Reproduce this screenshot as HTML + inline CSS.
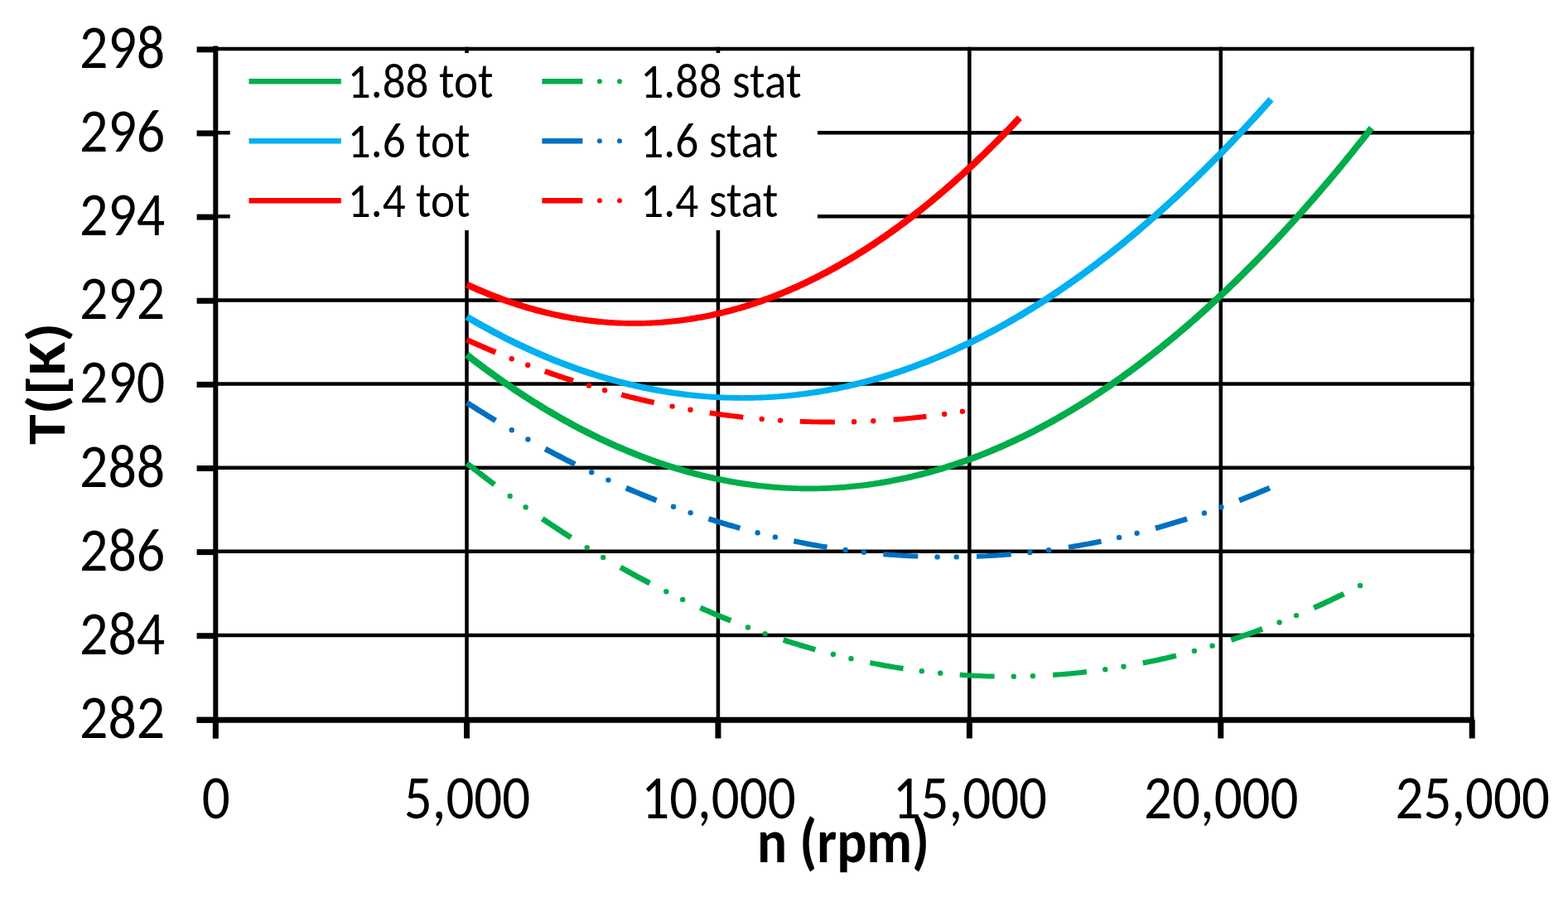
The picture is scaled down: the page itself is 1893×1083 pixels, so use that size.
<!DOCTYPE html><html><head><meta charset="utf-8"><title>T vs n</title><style>html,body{margin:0;padding:0;background:#fff;overflow:hidden}svg{display:block}</style></head><body><svg width="1893" height="1083" viewBox="0 0 1893 1083">
<rect width="1893" height="1083" fill="#fff"/>
<line x1="260.10" y1="766.94" x2="1779.46" y2="766.94" stroke="#000" stroke-width="4.5"/>
<line x1="260.10" y1="665.81" x2="1779.46" y2="665.81" stroke="#000" stroke-width="4.5"/>
<line x1="260.10" y1="564.68" x2="1779.46" y2="564.68" stroke="#000" stroke-width="4.5"/>
<line x1="260.10" y1="463.55" x2="1779.46" y2="463.55" stroke="#000" stroke-width="4.5"/>
<line x1="260.10" y1="362.42" x2="1779.46" y2="362.42" stroke="#000" stroke-width="4.5"/>
<line x1="260.10" y1="261.30" x2="1779.46" y2="261.30" stroke="#000" stroke-width="4.5"/>
<line x1="260.10" y1="160.17" x2="1779.46" y2="160.17" stroke="#000" stroke-width="4.5"/>
<line x1="260.10" y1="59.04" x2="1779.46" y2="59.04" stroke="#000" stroke-width="4.5"/>
<line x1="563.52" y1="56.79" x2="563.52" y2="868.06" stroke="#000" stroke-width="4.5"/>
<line x1="866.95" y1="56.79" x2="866.95" y2="868.06" stroke="#000" stroke-width="4.5"/>
<line x1="1170.37" y1="56.79" x2="1170.37" y2="868.06" stroke="#000" stroke-width="4.5"/>
<line x1="1473.79" y1="56.79" x2="1473.79" y2="868.06" stroke="#000" stroke-width="4.5"/>
<line x1="1777.21" y1="56.79" x2="1777.21" y2="868.06" stroke="#000" stroke-width="4.5"/>
<line x1="237.6" y1="869.25" x2="260.10" y2="869.25" stroke="#000" stroke-width="7"/>
<line x1="237.6" y1="767.74" x2="260.10" y2="767.74" stroke="#000" stroke-width="7"/>
<line x1="237.6" y1="666.61" x2="260.10" y2="666.61" stroke="#000" stroke-width="7"/>
<line x1="237.6" y1="565.48" x2="260.10" y2="565.48" stroke="#000" stroke-width="7"/>
<line x1="237.6" y1="464.35" x2="260.10" y2="464.35" stroke="#000" stroke-width="7"/>
<line x1="237.6" y1="363.22" x2="260.10" y2="363.22" stroke="#000" stroke-width="7"/>
<line x1="237.6" y1="262.10" x2="260.10" y2="262.10" stroke="#000" stroke-width="7"/>
<line x1="237.6" y1="160.97" x2="260.10" y2="160.97" stroke="#000" stroke-width="7"/>
<line x1="237.6" y1="59.84" x2="260.10" y2="59.84" stroke="#000" stroke-width="7"/>
<line x1="260.30" y1="869" x2="260.30" y2="891.5" stroke="#000" stroke-width="7"/>
<line x1="563.52" y1="869" x2="563.52" y2="891.5" stroke="#000" stroke-width="7"/>
<line x1="866.95" y1="869" x2="866.95" y2="891.5" stroke="#000" stroke-width="7"/>
<line x1="1170.37" y1="869" x2="1170.37" y2="891.5" stroke="#000" stroke-width="7"/>
<line x1="1473.79" y1="869" x2="1473.79" y2="891.5" stroke="#000" stroke-width="7"/>
<line x1="1777.21" y1="869" x2="1777.21" y2="891.5" stroke="#000" stroke-width="7"/>
<line x1="260.3" y1="55.54" x2="260.3" y2="891.5" stroke="#000" stroke-width="6"/>
<line x1="237.6" y1="869.25" x2="1779.71" y2="869.25" stroke="#000" stroke-width="7"/>
<path d="M566.1,425.1 568.6,427.0 571.1,429.0 573.6,430.9 576.1,432.8 578.5,434.7 581.0,436.6 583.5,438.5 586.0,440.3 588.5,442.2 591.0,444.0 593.5,445.8 596.0,447.6 598.5,449.4 601.0,451.2 603.5,453.0 606.0,454.8 608.5,456.5 611.0,458.3 613.5,460.0 616.0,461.7 618.5,463.4 621.0,465.1 623.5,466.8 625.9,468.5 628.4,470.2 630.9,471.8 633.4,473.4 635.9,475.1 638.4,476.7 640.9,478.3 643.4,479.9 645.9,481.4 648.4,483.0 650.9,484.6 653.4,486.1 655.9,487.6 658.4,489.2 660.8,490.7 663.3,492.2 665.8,493.6 668.3,495.1 670.8,496.6 673.3,498.0 675.8,499.5 678.3,500.9 680.8,502.3 683.3,503.7 685.8,505.1 688.3,506.5 690.7,507.8 693.2,509.2 695.7,510.5 698.2,511.9 700.7,513.2 703.2,514.5 705.7,515.8 708.2,517.1 710.7,518.3 713.2,519.6 715.7,520.8 718.1,522.1 720.6,523.3 723.1,524.5 725.6,525.7 728.1,526.9 730.6,528.1 733.1,529.2 735.6,530.4 738.1,531.5 740.6,532.7 743.0,533.8 745.5,534.9 748.0,536.0 750.5,537.1 753.0,538.1 755.5,539.2 758.0,540.2 760.5,541.3 763.0,542.3 765.4,543.3 767.9,544.3 770.4,545.3 772.9,546.3 775.4,547.3 777.9,548.2 780.4,549.2 782.9,550.1 785.3,551.0 787.8,551.9 790.3,552.8 792.8,553.7 795.3,554.6 797.8,555.4 800.3,556.3 802.8,557.1 805.2,557.9 807.7,558.7 810.2,559.5 812.7,560.3 815.2,561.1 817.7,561.9 820.2,562.6 822.7,563.4 825.1,564.1 827.6,564.8 830.1,565.5 832.6,566.2 835.1,566.9 837.6,567.6 840.1,568.3 842.6,568.9 845.0,569.5 847.5,570.2 850.0,570.8 852.5,571.4 855.0,572.0 857.5,572.6 860.0,573.1 862.5,573.7 864.9,574.2 867.4,574.8 869.9,575.3 872.4,575.8 874.9,576.3 877.4,576.8 879.9,577.2 882.4,577.7 884.8,578.2 887.3,578.6 889.8,579.0 892.3,579.4 894.8,579.8 897.3,580.2 899.8,580.6 902.3,581.0 904.7,581.3 907.2,581.7 909.7,582.0 912.2,582.3 914.7,582.7 917.2,583.0 919.7,583.2 922.2,583.5 924.6,583.8 927.1,584.0 929.6,584.3 932.1,584.5 934.6,584.7 937.1,584.9 939.6,585.1 942.1,585.3 944.5,585.5 947.0,585.6 949.5,585.8 952.0,585.9 954.5,586.0 957.0,586.2 959.5,586.3 962.0,586.3 964.5,586.4 966.9,586.5 969.4,586.5 971.9,586.6 974.4,586.6 976.9,586.6 979.4,586.6 981.9,586.6 984.4,586.5 986.9,586.5 989.3,586.4 991.8,586.3 994.3,586.3 996.8,586.2 999.3,586.0 1001.8,585.9 1004.3,585.8 1006.8,585.6 1009.3,585.5 1011.7,585.3 1014.2,585.1 1016.7,584.9 1019.2,584.7 1021.7,584.5 1024.2,584.3 1026.7,584.1 1029.2,583.8 1031.7,583.5 1034.1,583.3 1036.6,583.0 1039.1,582.7 1041.6,582.4 1044.1,582.1 1046.6,581.7 1049.1,581.4 1051.6,581.0 1054.0,580.7 1056.5,580.3 1059.0,579.9 1061.5,579.5 1064.0,579.1 1066.5,578.6 1069.0,578.2 1071.5,577.7 1073.9,577.3 1076.4,576.8 1078.9,576.3 1081.4,575.8 1083.9,575.3 1086.4,574.8 1088.9,574.3 1091.3,573.7 1093.8,573.2 1096.3,572.6 1098.8,572.0 1101.3,571.4 1103.8,570.8 1106.3,570.2 1108.8,569.6 1111.2,569.0 1113.7,568.3 1116.2,567.6 1118.7,567.0 1121.2,566.3 1123.7,565.6 1126.2,564.9 1128.7,564.2 1131.1,563.4 1133.6,562.7 1136.1,561.9 1138.6,561.2 1141.1,560.4 1143.6,559.6 1146.1,558.8 1148.6,558.0 1151.0,557.2 1153.5,556.3 1156.0,555.5 1158.5,554.6 1161.0,553.8 1163.5,552.9 1166.0,552.0 1168.5,551.1 1170.9,550.2 1173.4,549.2 1175.9,548.3 1178.4,547.3 1180.9,546.4 1183.4,545.4 1185.9,544.4 1188.4,543.4 1190.9,542.4 1193.3,541.4 1195.8,540.3 1198.3,539.3 1200.8,538.2 1203.3,537.2 1205.8,536.1 1208.3,535.0 1210.8,533.9 1213.3,532.8 1215.7,531.6 1218.2,530.5 1220.7,529.3 1223.2,528.2 1225.7,527.0 1228.2,525.8 1230.7,524.6 1233.2,523.4 1235.7,522.2 1238.1,520.9 1240.6,519.7 1243.1,518.4 1245.6,517.2 1248.1,515.9 1250.6,514.6 1253.1,513.3 1255.6,512.0 1258.1,510.6 1260.6,509.3 1263.1,507.9 1265.5,506.6 1268.0,505.2 1270.5,503.8 1273.0,502.4 1275.5,501.0 1278.0,499.6 1280.5,498.1 1283.0,496.7 1285.5,495.2 1288.0,493.8 1290.5,492.3 1293.0,490.8 1295.4,489.3 1297.9,487.8 1300.4,486.2 1302.9,484.7 1305.4,483.1 1307.9,481.6 1310.4,480.0 1312.9,478.4 1315.4,476.8 1317.9,475.2 1320.4,473.6 1322.9,471.9 1325.4,470.3 1327.9,468.6 1330.4,467.0 1332.8,465.3 1335.3,463.6 1337.8,461.9 1340.3,460.2 1342.8,458.4 1345.3,456.7 1347.8,454.9 1350.3,453.2 1352.8,451.4 1355.3,449.6 1357.8,447.8 1360.3,446.0 1362.8,444.2 1365.3,442.3 1367.8,440.5 1370.3,438.6 1372.8,436.7 1375.3,434.8 1377.7,433.0 1380.2,431.0 1382.7,429.1 1385.2,427.2 1387.7,425.3 1390.2,423.3 1392.7,421.3 1395.2,419.3 1397.7,417.4 1400.2,415.4 1402.7,413.3 1405.2,411.3 1407.7,409.3 1410.2,407.2 1412.7,405.2 1415.2,403.1 1417.7,401.0 1420.2,398.9 1422.7,396.8 1425.2,394.7 1427.7,392.5 1430.2,390.4 1432.7,388.2 1435.2,386.1 1437.7,383.9 1440.2,381.7 1442.7,379.5 1445.2,377.3 1447.7,375.1 1450.2,372.8 1452.7,370.6 1455.1,368.3 1457.6,366.0 1460.1,363.7 1462.6,361.4 1465.1,359.1 1467.6,356.8 1470.1,354.5 1472.6,352.1 1475.1,349.8 1477.6,347.4 1480.1,345.0 1482.6,342.6 1485.1,340.2 1487.6,337.8 1490.1,335.4 1492.6,332.9 1495.1,330.5 1497.6,328.0 1500.1,325.5 1502.6,323.0 1505.1,320.5 1507.6,318.0 1510.1,315.5 1512.6,313.0 1515.1,310.4 1517.6,307.9 1520.1,305.3 1522.6,302.7 1525.1,300.1 1527.6,297.5 1530.1,294.9 1532.6,292.2 1535.1,289.6 1537.6,286.9 1540.1,284.3 1542.6,281.6 1545.1,278.9 1547.6,276.2 1550.1,273.5 1552.6,270.8 1555.1,268.0 1557.6,265.3 1560.1,262.5 1562.6,259.7 1565.1,257.0 1567.6,254.2 1570.1,251.3 1572.6,248.5 1575.1,245.7 1577.6,242.8 1580.1,240.0 1582.6,237.1 1585.1,234.2 1587.6,231.3 1590.1,228.4 1592.6,225.5 1595.1,222.6 1597.6,219.7 1600.1,216.7 1602.6,213.7 1605.1,210.8 1607.7,207.8 1610.2,204.8 1612.7,201.8 1615.2,198.7 1617.7,195.7 1620.2,192.7 1622.7,189.6 1625.2,186.5 1627.7,183.4 1630.2,180.4 1632.7,177.2 1635.2,174.1 1637.7,171.0 1640.2,167.9 1642.7,164.7 1645.2,161.5 1647.7,158.4 1650.2,155.2 1652.7,152.0 1659.0,156.9 1656.5,160.1 1654.0,163.3 1651.5,166.5 1649.0,169.7 1646.5,172.8 1643.9,176.0 1641.4,179.1 1638.9,182.3 1636.4,185.4 1633.9,188.5 1631.4,191.6 1628.9,194.7 1626.4,197.8 1623.9,200.8 1621.4,203.9 1618.9,206.9 1616.4,209.9 1613.8,212.9 1611.3,215.9 1608.8,218.9 1606.3,221.9 1603.8,224.9 1601.3,227.8 1598.8,230.8 1596.3,233.7 1593.8,236.6 1591.3,239.5 1588.8,242.4 1586.2,245.3 1583.7,248.2 1581.2,251.1 1578.7,253.9 1576.2,256.7 1573.7,259.6 1571.2,262.4 1568.7,265.2 1566.2,268.0 1563.7,270.7 1561.1,273.5 1558.6,276.3 1556.1,279.0 1553.6,281.7 1551.1,284.4 1548.6,287.2 1546.1,289.9 1543.6,292.5 1541.1,295.2 1538.6,297.9 1536.0,300.5 1533.5,303.1 1531.0,305.8 1528.5,308.4 1526.0,311.0 1523.5,313.6 1521.0,316.1 1518.5,318.7 1516.0,321.3 1513.4,323.8 1510.9,326.3 1508.4,328.8 1505.9,331.3 1503.4,333.8 1500.9,336.3 1498.4,338.8 1495.9,341.2 1493.4,343.7 1490.8,346.1 1488.3,348.5 1485.8,351.0 1483.3,353.4 1480.8,355.7 1478.3,358.1 1475.8,360.5 1473.3,362.8 1470.7,365.2 1468.2,367.5 1465.7,369.8 1463.2,372.1 1460.7,374.4 1458.2,376.7 1455.7,378.9 1453.2,381.2 1450.6,383.4 1448.1,385.7 1445.6,387.9 1443.1,390.1 1440.6,392.3 1438.1,394.5 1435.6,396.7 1433.1,398.8 1430.5,401.0 1428.0,403.1 1425.5,405.2 1423.0,407.3 1420.5,409.4 1418.0,411.5 1415.5,413.6 1412.9,415.7 1410.4,417.7 1407.9,419.8 1405.4,421.8 1402.9,423.8 1400.4,425.8 1397.9,427.8 1395.3,429.8 1392.8,431.8 1390.3,433.7 1387.8,435.7 1385.3,437.6 1382.8,439.5 1380.3,441.5 1377.7,443.3 1375.2,445.2 1372.7,447.1 1370.2,449.0 1367.7,450.8 1365.2,452.7 1362.6,454.5 1360.1,456.3 1357.6,458.1 1355.1,459.9 1352.6,461.7 1350.1,463.5 1347.5,465.2 1345.0,467.0 1342.5,468.7 1340.0,470.4 1337.5,472.1 1335.0,473.8 1332.4,475.5 1329.9,477.2 1327.4,478.8 1324.9,480.5 1322.4,482.1 1319.9,483.7 1317.3,485.4 1314.8,487.0 1312.3,488.6 1309.8,490.1 1307.3,491.7 1304.8,493.3 1302.2,494.8 1299.7,496.3 1297.2,497.8 1294.7,499.3 1292.2,500.8 1289.6,502.3 1287.1,503.8 1284.6,505.3 1282.1,506.7 1279.6,508.1 1277.0,509.6 1274.5,511.0 1272.0,512.4 1269.5,513.8 1267.0,515.1 1264.5,516.5 1261.9,517.8 1259.4,519.2 1256.9,520.5 1254.4,521.8 1251.9,523.1 1249.3,524.4 1246.8,525.7 1244.3,527.0 1241.8,528.2 1239.2,529.5 1236.7,530.7 1234.2,531.9 1231.7,533.1 1229.2,534.3 1226.6,535.5 1224.1,536.7 1221.6,537.8 1219.1,539.0 1216.6,540.1 1214.0,541.2 1211.5,542.4 1209.0,543.5 1206.5,544.5 1204.0,545.6 1201.4,546.7 1198.9,547.7 1196.4,548.8 1193.9,549.8 1191.3,550.8 1188.8,551.8 1186.3,552.8 1183.8,553.8 1181.3,554.8 1178.7,555.7 1176.2,556.7 1173.7,557.6 1171.2,558.5 1168.6,559.4 1166.1,560.3 1163.6,561.2 1161.1,562.1 1158.6,562.9 1156.0,563.8 1153.5,564.6 1151.0,565.4 1148.5,566.2 1145.9,567.0 1143.4,567.8 1140.9,568.6 1138.4,569.4 1135.8,570.1 1133.3,570.9 1130.8,571.6 1128.3,572.3 1125.8,573.0 1123.2,573.7 1120.7,574.4 1118.2,575.1 1115.7,575.7 1113.1,576.4 1110.6,577.0 1108.1,577.6 1105.6,578.2 1103.0,578.8 1100.5,579.4 1098.0,580.0 1095.5,580.5 1092.9,581.1 1090.4,581.6 1087.9,582.1 1085.4,582.6 1082.9,583.1 1080.3,583.6 1077.8,584.1 1075.3,584.6 1072.8,585.0 1070.2,585.4 1067.7,585.9 1065.2,586.3 1062.7,586.7 1060.1,587.1 1057.6,587.5 1055.1,587.8 1052.6,588.2 1050.0,588.5 1047.5,588.9 1045.0,589.2 1042.5,589.5 1040.0,589.8 1037.4,590.1 1034.9,590.3 1032.4,590.6 1029.9,590.8 1027.3,591.1 1024.8,591.3 1022.3,591.5 1019.8,591.7 1017.2,591.9 1014.7,592.1 1012.2,592.2 1009.7,592.4 1007.2,592.5 1004.6,592.6 1002.1,592.7 999.6,592.8 997.1,592.9 994.5,593.0 992.0,593.1 989.5,593.1 987.0,593.2 984.5,593.2 981.9,593.2 979.4,593.2 976.9,593.2 974.4,593.2 971.9,593.2 969.3,593.2 966.8,593.2 964.3,593.1 961.8,593.1 959.3,593.0 956.7,592.9 954.2,592.8 951.7,592.7 949.2,592.6 946.6,592.5 944.1,592.4 941.6,592.2 939.1,592.0 936.6,591.9 934.0,591.7 931.5,591.5 929.0,591.3 926.5,591.0 923.9,590.8 921.4,590.6 918.9,590.3 916.4,590.0 913.8,589.8 911.3,589.5 908.8,589.2 906.3,588.8 903.8,588.5 901.2,588.2 898.7,587.8 896.2,587.4 893.7,587.1 891.1,586.7 888.6,586.3 886.1,585.8 883.6,585.4 881.0,585.0 878.5,584.5 876.0,584.1 873.5,583.6 871.0,583.1 868.4,582.6 865.9,582.1 863.4,581.6 860.9,581.0 858.3,580.5 855.8,579.9 853.3,579.3 850.8,578.8 848.2,578.2 845.7,577.6 843.2,576.9 840.7,576.3 838.1,575.7 835.6,575.0 833.1,574.3 830.6,573.7 828.0,573.0 825.5,572.3 823.0,571.5 820.5,570.8 818.0,570.1 815.4,569.3 812.9,568.6 810.4,567.8 807.9,567.0 805.3,566.2 802.8,565.4 800.3,564.5 797.8,563.7 795.2,562.9 792.7,562.0 790.2,561.1 787.7,560.2 785.2,559.3 782.6,558.4 780.1,557.5 777.6,556.6 775.1,555.6 772.5,554.7 770.0,553.7 767.5,552.7 765.0,551.7 762.5,550.7 759.9,549.7 757.4,548.7 754.9,547.6 752.4,546.6 749.8,545.5 747.3,544.5 744.8,543.4 742.3,542.3 739.8,541.2 737.2,540.0 734.7,538.9 732.2,537.7 729.7,536.6 727.2,535.4 724.6,534.2 722.1,533.0 719.6,531.8 717.1,530.6 714.6,529.4 712.0,528.1 709.5,526.9 707.0,525.6 704.5,524.3 701.9,523.0 699.4,521.7 696.9,520.4 694.4,519.1 691.9,517.7 689.3,516.4 686.8,515.0 684.3,513.6 681.8,512.3 679.3,510.9 676.8,509.4 674.2,508.0 671.7,506.6 669.2,505.1 666.7,503.7 664.2,502.2 661.6,500.7 659.1,499.2 656.6,497.7 654.1,496.2 651.6,494.7 649.0,493.1 646.5,491.6 644.0,490.0 641.5,488.4 639.0,486.8 636.5,485.2 633.9,483.6 631.4,482.0 628.9,480.4 626.4,478.7 623.9,477.0 621.4,475.4 618.8,473.7 616.3,472.0 613.8,470.3 611.3,468.6 608.8,466.8 606.3,465.1 603.7,463.3 601.2,461.5 598.7,459.8 596.2,458.0 593.7,456.2 591.2,454.3 588.6,452.5 586.1,450.7 583.6,448.8 581.1,447.0 578.6,445.1 576.1,443.2 573.5,441.3 571.0,439.4 568.5,437.5 566.0,435.5 563.5,433.6 561.0,431.6Z" fill="#00AD4A"/>
<path d="M565.6,379.0 568.1,380.5 570.6,381.9 573.1,383.4 575.6,384.8 578.1,386.2 580.5,387.6 583.0,389.0 585.5,390.4 588.0,391.8 590.5,393.1 593.0,394.5 595.5,395.8 598.0,397.2 600.5,398.5 602.9,399.8 605.4,401.1 607.9,402.4 610.4,403.7 612.9,404.9 615.4,406.2 617.9,407.4 620.4,408.6 622.9,409.9 625.3,411.1 627.8,412.3 630.3,413.5 632.8,414.6 635.3,415.8 637.8,417.0 640.3,418.1 642.8,419.2 645.2,420.3 647.7,421.5 650.2,422.6 652.7,423.6 655.2,424.7 657.7,425.8 660.2,426.8 662.7,427.9 665.1,428.9 667.6,429.9 670.1,431.0 672.6,432.0 675.1,432.9 677.6,433.9 680.1,434.9 682.6,435.8 685.0,436.8 687.5,437.7 690.0,438.6 692.5,439.6 695.0,440.5 697.5,441.4 700.0,442.2 702.4,443.1 704.9,444.0 707.4,444.8 709.9,445.6 712.4,446.5 714.9,447.3 717.4,448.1 719.8,448.9 722.3,449.7 724.8,450.4 727.3,451.2 729.8,451.9 732.3,452.7 734.8,453.4 737.2,454.1 739.7,454.8 742.2,455.5 744.7,456.2 747.2,456.9 749.7,457.5 752.2,458.2 754.6,458.8 757.1,459.4 759.6,460.1 762.1,460.7 764.6,461.3 767.1,461.8 769.6,462.4 772.0,463.0 774.5,463.5 777.0,464.1 779.5,464.6 782.0,465.1 784.5,465.6 787.0,466.1 789.4,466.6 791.9,467.1 794.4,467.6 796.9,468.0 799.4,468.4 801.9,468.9 804.3,469.3 806.8,469.7 809.3,470.1 811.8,470.5 814.3,470.9 816.8,471.2 819.3,471.6 821.7,471.9 824.2,472.3 826.7,472.6 829.2,472.9 831.7,473.2 834.2,473.5 836.7,473.8 839.1,474.0 841.6,474.3 844.1,474.5 846.6,474.8 849.1,475.0 851.6,475.2 854.1,475.4 856.6,475.6 859.0,475.8 861.5,476.0 864.0,476.1 866.5,476.3 869.0,476.4 871.5,476.5 874.0,476.6 876.4,476.7 878.9,476.8 881.4,476.9 883.9,477.0 886.4,477.0 888.9,477.1 891.4,477.1 893.9,477.1 896.3,477.2 898.8,477.1 901.3,477.1 903.8,477.1 906.3,477.0 908.8,477.0 911.3,476.9 913.8,476.8 916.2,476.7 918.7,476.6 921.2,476.5 923.7,476.4 926.2,476.2 928.7,476.1 931.2,475.9 933.7,475.8 936.1,475.6 938.6,475.4 941.1,475.2 943.6,475.0 946.1,474.7 948.6,474.5 951.1,474.2 953.5,474.0 956.0,473.7 958.5,473.4 961.0,473.2 963.5,472.8 966.0,472.5 968.5,472.2 970.9,471.9 973.4,471.5 975.9,471.2 978.4,470.8 980.9,470.4 983.4,470.0 985.9,469.6 988.3,469.2 990.8,468.8 993.3,468.4 995.8,467.9 998.3,467.5 1000.8,467.0 1003.3,466.5 1005.7,466.0 1008.2,465.5 1010.7,465.0 1013.2,464.5 1015.7,464.0 1018.2,463.4 1020.7,462.9 1023.1,462.3 1025.6,461.7 1028.1,461.2 1030.6,460.6 1033.1,460.0 1035.6,459.3 1038.1,458.7 1040.5,458.1 1043.0,457.4 1045.5,456.8 1048.0,456.1 1050.5,455.4 1053.0,454.7 1055.5,454.0 1057.9,453.3 1060.4,452.5 1062.9,451.8 1065.4,451.1 1067.9,450.3 1070.4,449.5 1072.9,448.7 1075.3,447.9 1077.8,447.1 1080.3,446.3 1082.8,445.5 1085.3,444.7 1087.8,443.8 1090.3,443.0 1092.7,442.1 1095.2,441.2 1097.7,440.3 1100.2,439.4 1102.7,438.5 1105.2,437.6 1107.7,436.6 1110.1,435.7 1112.6,434.7 1115.1,433.8 1117.6,432.8 1120.1,431.8 1122.6,430.8 1125.1,429.8 1127.6,428.7 1130.0,427.7 1132.5,426.7 1135.0,425.6 1137.5,424.5 1140.0,423.5 1142.5,422.4 1145.0,421.3 1147.4,420.2 1149.9,419.0 1152.4,417.9 1154.9,416.8 1157.4,415.6 1159.9,414.4 1162.4,413.2 1164.9,412.1 1167.4,410.9 1169.8,409.7 1172.3,408.4 1174.8,407.2 1177.3,406.0 1179.8,404.7 1182.3,403.4 1184.8,402.2 1187.3,400.9 1189.7,399.6 1192.2,398.3 1194.7,396.9 1197.2,395.6 1199.7,394.3 1202.2,392.9 1204.7,391.5 1207.2,390.2 1209.7,388.8 1212.1,387.4 1214.6,386.0 1217.1,384.6 1219.6,383.1 1222.1,381.7 1224.6,380.2 1227.1,378.8 1229.6,377.3 1232.1,375.8 1234.6,374.3 1237.0,372.8 1239.5,371.3 1242.0,369.7 1244.5,368.2 1247.0,366.7 1249.5,365.1 1252.0,363.5 1254.5,361.9 1257.0,360.3 1259.5,358.7 1262.0,357.1 1264.4,355.5 1266.9,353.8 1269.4,352.2 1271.9,350.5 1274.4,348.8 1276.9,347.2 1279.4,345.5 1281.9,343.8 1284.4,342.0 1286.9,340.3 1289.4,338.6 1291.9,336.8 1294.3,335.1 1296.8,333.3 1299.3,331.5 1301.8,329.7 1304.3,327.9 1306.8,326.1 1309.3,324.3 1311.8,322.4 1314.3,320.6 1316.8,318.7 1319.3,316.8 1321.8,314.9 1324.3,313.1 1326.8,311.1 1329.2,309.2 1331.7,307.3 1334.2,305.4 1336.7,303.4 1339.2,301.5 1341.7,299.5 1344.2,297.5 1346.7,295.5 1349.2,293.5 1351.7,291.5 1354.2,289.5 1356.7,287.4 1359.2,285.4 1361.7,283.3 1364.2,281.2 1366.7,279.1 1369.2,277.1 1371.6,275.0 1374.1,272.8 1376.6,270.7 1379.1,268.6 1381.6,266.4 1384.1,264.3 1386.6,262.1 1389.1,259.9 1391.6,257.7 1394.1,255.5 1396.6,253.3 1399.1,251.1 1401.6,248.8 1404.1,246.6 1406.6,244.3 1409.1,242.0 1411.6,239.8 1414.1,237.5 1416.6,235.2 1419.1,232.8 1421.6,230.5 1424.1,228.2 1426.5,225.8 1429.0,223.5 1431.5,221.1 1434.0,218.7 1436.5,216.3 1439.0,213.9 1441.5,211.5 1444.0,209.1 1446.5,206.6 1449.0,204.2 1451.5,201.7 1454.0,199.3 1456.5,196.8 1459.0,194.3 1461.5,191.8 1464.0,189.3 1466.5,186.7 1469.0,184.2 1471.5,181.7 1474.0,179.1 1476.5,176.5 1479.0,173.9 1481.5,171.4 1484.0,168.7 1486.5,166.1 1489.0,163.5 1491.5,160.9 1494.0,158.2 1496.5,155.6 1499.0,152.9 1501.5,150.2 1504.0,147.5 1506.5,144.8 1509.0,142.1 1511.4,139.4 1513.9,136.6 1516.4,133.9 1518.9,131.1 1521.4,128.4 1523.9,125.6 1526.4,122.8 1528.9,120.0 1531.4,117.2 1537.5,122.5 1535.0,125.4 1532.5,128.2 1530.0,131.0 1527.5,133.8 1525.0,136.6 1522.5,139.4 1520.0,142.1 1517.5,144.9 1515.0,147.6 1512.4,150.3 1509.9,153.1 1507.4,155.8 1504.9,158.5 1502.4,161.1 1499.9,163.8 1497.4,166.5 1494.9,169.1 1492.4,171.8 1489.9,174.4 1487.4,177.0 1484.9,179.6 1482.4,182.2 1479.9,184.8 1477.3,187.4 1474.8,189.9 1472.3,192.5 1469.8,195.0 1467.3,197.6 1464.8,200.1 1462.3,202.6 1459.8,205.1 1457.3,207.6 1454.8,210.0 1452.3,212.5 1449.8,215.0 1447.2,217.4 1444.7,219.8 1442.2,222.3 1439.7,224.7 1437.2,227.1 1434.7,229.4 1432.2,231.8 1429.7,234.2 1427.2,236.5 1424.7,238.9 1422.2,241.2 1419.7,243.5 1417.1,245.8 1414.6,248.1 1412.1,250.4 1409.6,252.7 1407.1,255.0 1404.6,257.2 1402.1,259.5 1399.6,261.7 1397.1,263.9 1394.6,266.1 1392.0,268.3 1389.5,270.5 1387.0,272.7 1384.5,274.8 1382.0,277.0 1379.5,279.1 1377.0,281.3 1374.5,283.4 1372.0,285.5 1369.5,287.6 1366.9,289.7 1364.4,291.7 1361.9,293.8 1359.4,295.9 1356.9,297.9 1354.4,299.9 1351.9,302.0 1349.4,304.0 1346.9,306.0 1344.3,308.0 1341.8,309.9 1339.3,311.9 1336.8,313.8 1334.3,315.8 1331.8,317.7 1329.3,319.6 1326.8,321.5 1324.3,323.4 1321.7,325.3 1319.2,327.2 1316.7,329.1 1314.2,330.9 1311.7,332.8 1309.2,334.6 1306.7,336.4 1304.2,338.2 1301.6,340.0 1299.1,341.8 1296.6,343.6 1294.1,345.4 1291.6,347.1 1289.1,348.8 1286.6,350.6 1284.1,352.3 1281.5,354.0 1279.0,355.7 1276.5,357.4 1274.0,359.1 1271.5,360.7 1269.0,362.4 1266.5,364.0 1263.9,365.7 1261.4,367.3 1258.9,368.9 1256.4,370.5 1253.9,372.1 1251.4,373.6 1248.9,375.2 1246.4,376.8 1243.8,378.3 1241.3,379.8 1238.8,381.4 1236.3,382.9 1233.8,384.4 1231.3,385.8 1228.7,387.3 1226.2,388.8 1223.7,390.2 1221.2,391.7 1218.7,393.1 1216.2,394.5 1213.7,395.9 1211.1,397.3 1208.6,398.7 1206.1,400.1 1203.6,401.5 1201.1,402.8 1198.6,404.2 1196.0,405.5 1193.5,406.8 1191.0,408.1 1188.5,409.4 1186.0,410.7 1183.5,412.0 1180.9,413.2 1178.4,414.5 1175.9,415.7 1173.4,417.0 1170.9,418.2 1168.4,419.4 1165.8,420.6 1163.3,421.8 1160.8,422.9 1158.3,424.1 1155.8,425.2 1153.3,426.4 1150.7,427.5 1148.2,428.6 1145.7,429.7 1143.2,430.8 1140.7,431.9 1138.2,433.0 1135.6,434.1 1133.1,435.1 1130.6,436.1 1128.1,437.2 1125.6,438.2 1123.0,439.2 1120.5,440.2 1118.0,441.2 1115.5,442.1 1113.0,443.1 1110.5,444.1 1107.9,445.0 1105.4,445.9 1102.9,446.8 1100.4,447.7 1097.9,448.6 1095.3,449.5 1092.8,450.4 1090.3,451.3 1087.8,452.1 1085.3,452.9 1082.8,453.8 1080.2,454.6 1077.7,455.4 1075.2,456.2 1072.7,457.0 1070.2,457.7 1067.6,458.5 1065.1,459.2 1062.6,460.0 1060.1,460.7 1057.6,461.4 1055.0,462.1 1052.5,462.8 1050.0,463.5 1047.5,464.2 1045.0,464.8 1042.4,465.5 1039.9,466.1 1037.4,466.7 1034.9,467.3 1032.4,467.9 1029.8,468.5 1027.3,469.1 1024.8,469.7 1022.3,470.2 1019.8,470.8 1017.2,471.3 1014.7,471.8 1012.2,472.4 1009.7,472.9 1007.2,473.3 1004.6,473.8 1002.1,474.3 999.6,474.7 997.1,475.2 994.6,475.6 992.1,476.0 989.5,476.5 987.0,476.9 984.5,477.2 982.0,477.6 979.5,478.0 976.9,478.3 974.4,478.7 971.9,479.0 969.4,479.3 966.9,479.6 964.3,479.9 961.8,480.2 959.3,480.5 956.8,480.8 954.3,481.0 951.7,481.3 949.2,481.5 946.7,481.7 944.2,481.9 941.7,482.1 939.2,482.3 936.6,482.5 934.1,482.7 931.6,482.8 929.1,482.9 926.6,483.1 924.0,483.2 921.5,483.3 919.0,483.4 916.5,483.5 914.0,483.6 911.5,483.6 908.9,483.7 906.4,483.7 903.9,483.7 901.4,483.8 898.9,483.8 896.4,483.8 893.8,483.8 891.3,483.8 888.8,483.7 886.3,483.7 883.8,483.7 881.2,483.6 878.7,483.6 876.2,483.5 873.7,483.4 871.2,483.3 868.7,483.2 866.1,483.1 863.6,483.0 861.1,482.8 858.6,482.7 856.1,482.5 853.5,482.3 851.0,482.2 848.5,482.0 846.0,481.8 843.5,481.5 841.0,481.3 838.4,481.1 835.9,480.8 833.4,480.6 830.9,480.3 828.4,480.0 825.8,479.7 823.3,479.4 820.8,479.1 818.3,478.7 815.8,478.4 813.2,478.0 810.7,477.7 808.2,477.3 805.7,476.9 803.2,476.5 800.6,476.1 798.1,475.7 795.6,475.3 793.1,474.8 790.6,474.4 788.1,473.9 785.5,473.4 783.0,472.9 780.5,472.4 778.0,471.9 775.5,471.4 772.9,470.9 770.4,470.3 767.9,469.8 765.4,469.2 762.9,468.6 760.3,468.0 757.8,467.4 755.3,466.8 752.8,466.2 750.3,465.6 747.7,464.9 745.2,464.3 742.7,463.6 740.2,462.9 737.7,462.2 735.1,461.5 732.6,460.8 730.1,460.1 727.6,459.4 725.1,458.6 722.5,457.9 720.0,457.1 717.5,456.3 715.0,455.5 712.5,454.7 709.9,453.9 707.4,453.1 704.9,452.2 702.4,451.4 699.9,450.5 697.4,449.7 694.8,448.8 692.3,447.9 689.8,447.0 687.3,446.1 684.8,445.2 682.2,444.2 679.7,443.3 677.2,442.3 674.7,441.3 672.2,440.4 669.7,439.4 667.1,438.4 664.6,437.4 662.1,436.3 659.6,435.3 657.1,434.2 654.5,433.2 652.0,432.1 649.5,431.0 647.0,429.9 644.5,428.8 642.0,427.7 639.4,426.6 636.9,425.4 634.4,424.3 631.9,423.1 629.4,422.0 626.9,420.8 624.3,419.6 621.8,418.4 619.3,417.2 616.8,415.9 614.3,414.7 611.8,413.4 609.2,412.2 606.7,410.9 604.2,409.6 601.7,408.3 599.2,407.0 596.7,405.7 594.1,404.4 591.6,403.0 589.1,401.7 586.6,400.3 584.1,399.0 581.6,397.6 579.0,396.2 576.5,394.8 574.0,393.4 571.5,391.9 569.0,390.5 566.5,389.0 564.0,387.6 561.4,386.1Z" fill="#00B0F0"/>
<path d="M565.2,339.9 567.7,341.0 570.2,342.2 572.7,343.3 575.1,344.4 577.6,345.5 580.1,346.6 582.6,347.6 585.1,348.7 587.5,349.7 590.0,350.7 592.5,351.7 595.0,352.7 597.5,353.7 599.9,354.7 602.4,355.6 604.9,356.6 607.4,357.5 609.9,358.4 612.3,359.3 614.8,360.2 617.3,361.0 619.8,361.9 622.3,362.7 624.7,363.5 627.2,364.3 629.7,365.1 632.2,365.9 634.7,366.7 637.1,367.4 639.6,368.2 642.1,368.9 644.6,369.6 647.0,370.3 649.5,371.0 652.0,371.6 654.5,372.3 657.0,372.9 659.4,373.6 661.9,374.2 664.4,374.8 666.9,375.4 669.3,375.9 671.8,376.5 674.3,377.0 676.8,377.5 679.3,378.1 681.7,378.6 684.2,379.0 686.7,379.5 689.2,380.0 691.6,380.4 694.1,380.8 696.6,381.3 699.1,381.7 701.6,382.0 704.0,382.4 706.5,382.8 709.0,383.1 711.5,383.4 714.0,383.8 716.4,384.1 718.9,384.3 721.4,384.6 723.9,384.9 726.3,385.1 728.8,385.4 731.3,385.6 733.8,385.8 736.3,386.0 738.7,386.1 741.2,386.3 743.7,386.4 746.2,386.6 748.7,386.7 751.1,386.8 753.6,386.9 756.1,387.0 758.6,387.0 761.1,387.1 763.5,387.1 766.0,387.1 768.5,387.1 771.0,387.1 773.5,387.0 776.0,386.9 778.4,386.9 780.9,386.8 783.4,386.7 785.9,386.5 788.4,386.4 790.8,386.3 793.3,386.1 795.8,385.9 798.3,385.7 800.8,385.5 803.2,385.3 805.7,385.1 808.2,384.8 810.7,384.5 813.1,384.3 815.6,384.0 818.1,383.7 820.6,383.4 823.1,383.0 825.5,382.7 828.0,382.3 830.5,381.9 833.0,381.5 835.5,381.1 837.9,380.7 840.4,380.3 842.9,379.8 845.4,379.4 847.8,378.9 850.3,378.4 852.8,377.9 855.3,377.4 857.8,376.9 860.2,376.3 862.7,375.8 865.2,375.2 867.7,374.6 870.1,374.0 872.6,373.4 875.1,372.8 877.6,372.1 880.1,371.5 882.5,370.8 885.0,370.1 887.5,369.4 890.0,368.7 892.4,368.0 894.9,367.2 897.4,366.5 899.9,365.7 902.4,364.9 904.8,364.1 907.3,363.3 909.8,362.5 912.3,361.6 914.8,360.8 917.2,359.9 919.7,359.0 922.2,358.1 924.7,357.2 927.2,356.3 929.6,355.4 932.1,354.4 934.6,353.4 937.1,352.5 939.5,351.5 942.0,350.5 944.5,349.4 947.0,348.4 949.5,347.3 951.9,346.3 954.4,345.2 956.9,344.1 959.4,343.0 961.9,341.9 964.4,340.7 966.8,339.6 969.3,338.4 971.8,337.2 974.3,336.0 976.8,334.8 979.2,333.6 981.7,332.4 984.2,331.1 986.7,329.9 989.2,328.6 991.7,327.3 994.1,326.0 996.6,324.7 999.1,323.3 1001.6,322.0 1004.1,320.6 1006.5,319.2 1009.0,317.8 1011.5,316.4 1014.0,315.0 1016.5,313.6 1019.0,312.1 1021.4,310.7 1023.9,309.2 1026.4,307.7 1028.9,306.2 1031.4,304.7 1033.9,303.1 1036.4,301.6 1038.8,300.0 1041.3,298.4 1043.8,296.8 1046.3,295.2 1048.8,293.6 1051.3,292.0 1053.8,290.3 1056.2,288.7 1058.7,287.0 1061.2,285.3 1063.7,283.6 1066.2,281.9 1068.7,280.1 1071.2,278.4 1073.6,276.6 1076.1,274.8 1078.6,273.0 1081.1,271.2 1083.6,269.4 1086.1,267.6 1088.6,265.7 1091.1,263.9 1093.5,262.0 1096.0,260.1 1098.5,258.2 1101.0,256.3 1103.5,254.3 1106.0,252.4 1108.5,250.4 1111.0,248.5 1113.5,246.5 1115.9,244.5 1118.4,242.4 1120.9,240.4 1123.4,238.3 1125.9,236.3 1128.4,234.2 1130.9,232.1 1133.4,230.0 1135.9,227.9 1138.4,225.8 1140.8,223.6 1143.3,221.4 1145.8,219.3 1148.3,217.1 1150.8,214.9 1153.3,212.6 1155.8,210.4 1158.3,208.2 1160.8,205.9 1163.3,203.6 1165.8,201.3 1168.2,199.0 1170.7,196.7 1173.2,194.4 1175.7,192.0 1178.2,189.6 1180.7,187.3 1183.2,184.9 1185.7,182.5 1188.2,180.0 1190.7,177.6 1193.2,175.2 1195.7,172.7 1198.2,170.2 1200.6,167.7 1203.1,165.2 1205.6,162.7 1208.1,160.1 1210.6,157.6 1213.1,155.0 1215.6,152.5 1218.1,149.9 1220.6,147.2 1223.1,144.6 1225.6,142.0 1228.1,139.3 1234.0,144.9 1231.5,147.6 1229.0,150.2 1226.5,152.9 1224.0,155.5 1221.5,158.1 1219.0,160.7 1216.5,163.3 1214.0,165.9 1211.5,168.4 1209.0,171.0 1206.5,173.5 1203.9,176.0 1201.4,178.5 1198.9,181.0 1196.4,183.5 1193.9,185.9 1191.4,188.4 1188.9,190.8 1186.4,193.2 1183.9,195.6 1181.4,198.0 1178.9,200.4 1176.4,202.7 1173.9,205.0 1171.3,207.4 1168.8,209.7 1166.3,212.0 1163.8,214.3 1161.3,216.5 1158.8,218.8 1156.3,221.0 1153.8,223.3 1151.3,225.5 1148.8,227.7 1146.3,229.8 1143.7,232.0 1141.2,234.2 1138.7,236.3 1136.2,238.4 1133.7,240.5 1131.2,242.6 1128.7,244.7 1126.2,246.8 1123.7,248.8 1121.1,250.9 1118.6,252.9 1116.1,254.9 1113.6,256.9 1111.1,258.9 1108.6,260.9 1106.1,262.8 1103.6,264.8 1101.1,266.7 1098.5,268.6 1096.0,270.5 1093.5,272.4 1091.0,274.2 1088.5,276.1 1086.0,277.9 1083.5,279.8 1081.0,281.6 1078.4,283.4 1075.9,285.1 1073.4,286.9 1070.9,288.7 1068.4,290.4 1065.9,292.1 1063.4,293.8 1060.8,295.5 1058.3,297.2 1055.8,298.9 1053.3,300.5 1050.8,302.2 1048.3,303.8 1045.8,305.4 1043.2,307.0 1040.7,308.6 1038.2,310.1 1035.7,311.7 1033.2,313.2 1030.7,314.7 1028.2,316.2 1025.6,317.7 1023.1,319.2 1020.6,320.7 1018.1,322.1 1015.6,323.6 1013.1,325.0 1010.5,326.4 1008.0,327.8 1005.5,329.2 1003.0,330.5 1000.5,331.9 997.9,333.2 995.4,334.5 992.9,335.8 990.4,337.1 987.9,338.4 985.4,339.6 982.8,340.9 980.3,342.1 977.8,343.3 975.3,344.6 972.8,345.7 970.2,346.9 967.7,348.1 965.2,349.2 962.7,350.4 960.2,351.5 957.6,352.6 955.1,353.7 952.6,354.7 950.1,355.8 947.6,356.8 945.0,357.9 942.5,358.9 940.0,359.9 937.5,360.9 935.0,361.8 932.4,362.8 929.9,363.7 927.4,364.7 924.9,365.6 922.4,366.5 919.8,367.4 917.3,368.2 914.8,369.1 912.3,369.9 909.8,370.7 907.2,371.6 904.7,372.4 902.2,373.1 899.7,373.9 897.1,374.7 894.6,375.4 892.1,376.1 889.6,376.8 887.1,377.5 884.5,378.2 882.0,378.9 879.5,379.5 877.0,380.2 874.4,380.8 871.9,381.4 869.4,382.0 866.9,382.6 864.4,383.1 861.8,383.7 859.3,384.2 856.8,384.7 854.3,385.2 851.7,385.7 849.2,386.2 846.7,386.7 844.2,387.1 841.7,387.5 839.1,388.0 836.6,388.4 834.1,388.7 831.6,389.1 829.1,389.5 826.5,389.8 824.0,390.2 821.5,390.5 819.0,390.8 816.4,391.1 813.9,391.3 811.4,391.6 808.9,391.8 806.4,392.1 803.8,392.3 801.3,392.5 798.8,392.7 796.3,392.8 793.8,393.0 791.2,393.1 788.7,393.2 786.2,393.4 783.7,393.5 781.2,393.5 778.6,393.6 776.1,393.7 773.6,393.7 771.1,393.7 768.6,393.7 766.0,393.7 763.5,393.7 761.0,393.7 758.5,393.7 756.0,393.7 753.4,393.6 750.9,393.6 748.4,393.5 745.9,393.4 743.4,393.3 740.8,393.2 738.3,393.0 735.8,392.9 733.3,392.7 730.8,392.5 728.2,392.3 725.7,392.1 723.2,391.9 720.7,391.7 718.1,391.4 715.6,391.1 713.1,390.9 710.6,390.6 708.1,390.2 705.5,389.9 703.0,389.6 700.5,389.2 698.0,388.9 695.5,388.5 692.9,388.1 690.4,387.7 687.9,387.2 685.4,386.8 682.8,386.3 680.3,385.9 677.8,385.4 675.3,384.9 672.8,384.3 670.2,383.8 667.7,383.3 665.2,382.7 662.7,382.1 660.1,381.6 657.6,380.9 655.1,380.3 652.6,379.7 650.1,379.0 647.5,378.4 645.0,377.7 642.5,377.0 640.0,376.3 637.4,375.6 634.9,374.9 632.4,374.1 629.9,373.3 627.4,372.6 624.8,371.8 622.3,371.0 619.8,370.1 617.3,369.3 614.7,368.5 612.2,367.6 609.7,366.7 607.2,365.8 604.7,364.9 602.1,364.0 599.6,363.0 597.1,362.1 594.6,361.1 592.1,360.1 589.5,359.2 587.0,358.1 584.5,357.1 582.0,356.1 579.5,355.0 576.9,354.0 574.4,352.9 571.9,351.8 569.4,350.7 566.9,349.5 564.3,348.4 561.8,347.2Z" fill="#FF0000"/>
<path d="M565.6,556.7 568.1,558.7 570.6,560.6 573.1,562.6 575.6,564.5 578.1,566.5 580.6,568.4 583.1,570.3 585.6,572.2 588.1,574.1 590.6,576.0 593.1,577.9 595.6,579.8 598.1,581.7 599.1,582.4 595.0,587.8 594.1,587.1 591.6,585.2 589.1,583.3 586.5,581.4 584.0,579.5 581.5,577.6 579.0,575.7 576.5,573.7 574.0,571.8 571.5,569.8 569.0,567.9 566.5,565.9 564.0,563.9 561.4,562.0Z M656.6,623.4 658.1,624.5 660.6,626.2 663.1,627.8 665.6,629.5 668.1,631.2 670.6,632.8 673.1,634.5 675.6,636.1 678.1,637.8 680.6,639.4 683.1,641.0 685.6,642.6 688.1,644.2 690.6,645.8 691.2,646.2 687.6,651.9 687.0,651.5 684.5,649.9 681.9,648.3 679.4,646.7 676.9,645.1 674.4,643.4 671.9,641.8 669.4,640.1 666.9,638.5 664.4,636.8 661.9,635.1 659.3,633.5 656.8,631.8 654.3,630.1 652.8,629.0Z M750.7,681.9 753.1,683.3 755.6,684.7 758.1,686.1 760.6,687.5 763.1,688.8 765.6,690.2 768.1,691.6 770.6,692.9 773.1,694.3 775.6,695.6 778.1,697.0 780.6,698.3 783.1,699.6 785.6,700.9 786.1,701.2 782.9,707.2 782.4,706.9 779.9,705.6 777.4,704.3 774.9,702.9 772.4,701.6 769.9,700.2 767.4,698.9 764.8,697.5 762.3,696.2 759.8,694.8 757.3,693.4 754.8,692.0 752.3,690.6 749.8,689.2 747.3,687.8Z M846.8,730.6 848.0,731.2 850.5,732.3 853.0,733.4 855.5,734.5 858.0,735.6 860.5,736.7 863.0,737.7 865.5,738.8 868.0,739.9 870.5,740.9 873.0,742.0 875.5,743.0 878.0,744.0 880.5,745.1 882.9,746.1 883.6,746.4 881.1,752.6 880.4,752.3 877.9,751.3 875.4,750.2 872.9,749.2 870.4,748.2 867.9,747.1 865.4,746.0 862.8,745.0 860.3,743.9 857.8,742.8 855.3,741.7 852.8,740.6 850.3,739.5 847.8,738.4 845.3,737.3 844.0,736.8Z M946.7,769.4 947.9,769.8 950.4,770.6 952.9,771.4 955.3,772.2 957.8,773.0 960.3,773.8 962.8,774.6 965.3,775.3 967.8,776.1 970.3,776.8 972.8,777.6 975.3,778.3 977.8,779.0 980.3,779.8 982.8,780.5 985.3,781.2 983.5,787.5 981.0,786.8 978.5,786.0 976.0,785.3 973.5,784.6 971.0,783.9 968.4,783.1 965.9,782.4 963.4,781.6 960.9,780.8 958.4,780.1 955.9,779.3 953.4,778.5 950.8,777.7 948.3,776.9 945.8,776.1 944.7,775.7Z M1050.9,797.0 1052.7,797.4 1055.2,797.9 1057.7,798.4 1060.2,798.8 1062.7,799.3 1065.2,799.8 1067.7,800.2 1070.1,800.7 1072.6,801.1 1075.1,801.6 1077.6,802.0 1080.1,802.4 1082.6,802.8 1085.1,803.2 1087.6,803.6 1090.1,804.0 1091.0,804.1 1090.1,810.3 1089.2,810.2 1086.7,809.8 1084.1,809.4 1081.6,809.0 1079.1,808.6 1076.6,808.2 1074.1,807.8 1071.6,807.3 1069.0,806.9 1066.5,806.5 1064.0,806.0 1061.5,805.5 1059.0,805.1 1056.5,804.6 1054.0,804.1 1051.4,803.6 1049.7,803.3Z M1158.9,811.8 1160.0,811.8 1162.5,812.0 1165.0,812.2 1167.5,812.3 1170.0,812.5 1172.5,812.6 1175.0,812.8 1177.5,812.9 1180.0,813.0 1182.5,813.1 1185.0,813.2 1187.5,813.3 1189.9,813.4 1192.4,813.5 1194.9,813.5 1197.4,813.6 1199.9,813.7 1200.7,813.7 1200.6,819.5 1199.8,819.5 1197.3,819.5 1194.8,819.4 1192.3,819.4 1189.8,819.3 1187.2,819.2 1184.7,819.1 1182.2,819.0 1179.7,818.9 1177.2,818.8 1174.7,818.7 1172.2,818.6 1169.6,818.5 1167.1,818.3 1164.6,818.2 1162.1,818.0 1159.6,817.8 1158.5,817.8Z M1270.9,811.9 1272.3,811.8 1274.8,811.6 1277.3,811.5 1279.8,811.3 1282.3,811.1 1284.8,810.9 1287.3,810.6 1289.8,810.4 1292.3,810.2 1294.8,809.9 1297.3,809.7 1299.8,809.4 1302.3,809.2 1304.8,808.9 1307.3,808.6 1309.8,808.3 1311.6,808.1 1312.3,814.3 1310.5,814.5 1307.9,814.7 1305.4,815.0 1302.9,815.3 1300.4,815.5 1297.9,815.8 1295.4,816.0 1292.9,816.3 1290.3,816.5 1287.8,816.7 1285.3,816.9 1282.8,817.1 1280.3,817.3 1277.8,817.5 1275.2,817.7 1272.7,817.8 1271.3,817.9Z M1379.2,797.4 1379.6,797.3 1382.1,796.8 1384.6,796.3 1387.1,795.8 1389.6,795.3 1392.1,794.7 1394.6,794.2 1397.1,793.7 1399.6,793.1 1402.1,792.5 1404.6,792.0 1407.1,791.4 1409.6,790.8 1412.1,790.2 1414.6,789.6 1417.1,789.0 1419.2,788.5 1420.8,794.8 1418.6,795.3 1416.1,795.9 1413.6,796.5 1411.1,797.1 1408.5,797.7 1406.0,798.2 1403.5,798.8 1401.0,799.4 1398.5,799.9 1396.0,800.5 1393.5,801.0 1390.9,801.5 1388.4,802.1 1385.9,802.6 1383.4,803.1 1380.9,803.6 1380.4,803.7Z M1485.3,769.5 1487.0,768.9 1489.5,768.1 1491.9,767.2 1494.4,766.4 1496.9,765.6 1499.4,764.7 1501.9,763.8 1504.4,763.0 1506.9,762.1 1509.4,761.2 1511.9,760.3 1514.4,759.4 1516.9,758.5 1519.4,757.6 1521.9,756.6 1522.9,756.3 1525.3,762.5 1524.2,762.9 1521.7,763.8 1519.2,764.7 1516.7,765.6 1514.2,766.6 1511.6,767.5 1509.1,768.3 1506.6,769.2 1504.1,770.1 1501.6,771.0 1499.1,771.8 1496.6,772.7 1494.0,773.5 1491.5,774.4 1489.0,775.2 1487.3,775.7Z M1584.8,730.9 1586.8,730.0 1589.3,728.8 1591.8,727.7 1594.3,726.5 1596.8,725.4 1599.3,724.2 1601.8,723.1 1604.3,721.9 1606.8,720.7 1609.3,719.5 1611.8,718.3 1614.3,717.1 1616.8,715.9 1619.3,714.7 1621.0,713.9 1623.9,719.9 1622.3,720.8 1619.7,722.0 1617.2,723.2 1614.7,724.4 1612.2,725.6 1609.7,726.8 1607.2,728.0 1604.7,729.2 1602.1,730.3 1599.6,731.5 1597.1,732.7 1594.6,733.8 1592.1,735.0 1589.6,736.1 1587.6,737.0Z" fill="#00AD4A"/>
<g fill="#00AD4A"><circle cx="615.7" cy="598.9" r="3.2"/><circle cx="634.6" cy="612.4" r="3.2"/><circle cx="708.7" cy="661.1" r="3.2"/><circle cx="728.2" cy="672.9" r="3.2"/><circle cx="804.3" cy="714.2" r="3.2"/><circle cx="824.2" cy="723.9" r="3.2"/><circle cx="903.0" cy="757.5" r="3.2"/><circle cx="923.7" cy="765.1" r="3.2"/><circle cx="1005.9" cy="790.0" r="3.2"/><circle cx="1027.5" cy="795.3" r="3.2"/><circle cx="1112.8" cy="810.3" r="3.2"/><circle cx="1135.2" cy="812.8" r="3.2"/><circle cx="1223.8" cy="816.7" r="3.2"/><circle cx="1246.9" cy="816.2" r="3.2"/><circle cx="1334.3" cy="808.3" r="3.2"/><circle cx="1356.5" cy="804.8" r="3.2"/><circle cx="1441.9" cy="785.9" r="3.2"/><circle cx="1463.6" cy="779.7" r="3.2"/><circle cx="1544.6" cy="751.5" r="3.2"/><circle cx="1565.0" cy="743.1" r="3.2"/><circle cx="1642.1" cy="707.0" r="3.2"/></g>
<path d="M565.3,483.2 567.8,484.8 570.3,486.4 572.8,488.0 575.3,489.6 577.8,491.2 580.3,492.7 582.8,494.3 585.3,495.8 587.8,497.4 590.3,498.9 592.8,500.4 595.3,502.0 597.8,503.5 600.1,504.9 596.6,510.7 594.3,509.3 591.8,507.8 589.3,506.2 586.8,504.7 584.3,503.1 581.8,501.6 579.3,500.0 576.7,498.5 574.2,496.9 571.7,495.3 569.2,493.7 566.7,492.1 564.2,490.5 561.7,488.9Z M659.8,538.9 660.2,539.1 662.7,540.5 665.2,541.8 667.7,543.1 670.2,544.4 672.7,545.8 675.2,547.1 677.7,548.3 680.2,549.6 682.7,550.9 685.2,552.2 687.7,553.5 690.2,554.7 692.7,556.0 695.2,557.2 695.7,557.5 692.7,563.5 692.1,563.3 689.6,562.0 687.1,560.8 684.6,559.5 682.1,558.2 679.6,556.9 677.1,555.6 674.6,554.4 672.1,553.1 669.6,551.7 667.1,550.4 664.5,549.1 662.0,547.8 659.5,546.4 657.0,545.1 656.6,544.9Z M757.1,586.0 757.5,586.1 760.0,587.2 762.5,588.3 765.0,589.3 767.5,590.4 770.0,591.4 772.5,592.5 775.0,593.5 777.5,594.5 780.0,595.5 782.5,596.5 785.0,597.5 787.5,598.5 790.0,599.5 792.5,600.5 793.8,601.0 791.4,607.2 790.0,606.7 787.5,605.7 785.0,604.7 782.5,603.7 780.0,602.7 777.5,601.7 775.0,600.7 772.5,599.7 770.0,598.6 767.4,597.6 764.9,596.6 762.4,595.5 759.9,594.5 757.4,593.4 754.9,592.3 754.5,592.1Z M856.4,623.2 857.3,623.5 859.8,624.3 862.3,625.1 864.8,625.8 867.3,626.6 869.8,627.4 872.3,628.1 874.8,628.9 877.3,629.6 879.8,630.4 882.2,631.1 884.7,631.8 887.2,632.5 889.7,633.2 892.2,634.0 894.4,634.6 892.6,640.8 890.5,640.2 888.0,639.5 885.4,638.8 882.9,638.1 880.4,637.4 877.9,636.7 875.4,635.9 872.9,635.2 870.4,634.4 867.9,633.7 865.4,632.9 862.8,632.1 860.3,631.3 857.8,630.6 855.3,629.8 854.4,629.5Z M958.9,650.2 959.6,650.3 962.0,650.8 964.5,651.3 967.0,651.8 969.5,652.3 972.0,652.8 974.5,653.3 977.0,653.8 979.5,654.2 982.0,654.7 984.5,655.1 987.0,655.6 989.5,656.0 992.0,656.4 994.5,656.9 997.0,657.3 999.0,657.6 998.0,663.8 995.9,663.5 993.4,663.1 990.9,662.6 988.4,662.2 985.9,661.8 983.4,661.4 980.9,660.9 978.4,660.5 975.8,660.0 973.3,659.5 970.8,659.1 968.3,658.6 965.8,658.1 963.3,657.6 960.8,657.1 958.3,656.6 957.7,656.5Z M1066.7,666.1 1066.8,666.1 1069.3,666.3 1071.8,666.5 1074.3,666.7 1076.8,666.9 1079.2,667.1 1081.7,667.3 1084.2,667.4 1086.7,667.6 1089.2,667.8 1091.7,667.9 1094.2,668.1 1096.7,668.2 1099.2,668.3 1101.7,668.5 1104.2,668.6 1106.7,668.7 1108.5,668.8 1108.3,674.7 1106.4,674.6 1103.9,674.5 1101.4,674.4 1098.9,674.3 1096.4,674.2 1093.9,674.1 1091.4,673.9 1088.9,673.8 1086.3,673.6 1083.8,673.5 1081.3,673.3 1078.8,673.1 1076.3,672.9 1073.8,672.7 1071.3,672.6 1068.8,672.4 1066.3,672.1 1066.1,672.1Z M1178.9,668.8 1179.0,668.8 1181.5,668.7 1184.0,668.6 1186.5,668.5 1189.0,668.4 1191.5,668.2 1194.0,668.1 1196.5,668.0 1199.0,667.8 1201.5,667.7 1204.0,667.5 1206.4,667.3 1208.9,667.1 1211.4,666.9 1213.9,666.8 1216.4,666.6 1218.9,666.3 1220.4,666.2 1220.9,672.3 1219.4,672.4 1216.9,672.6 1214.4,672.8 1211.9,673.0 1209.4,673.2 1206.9,673.3 1204.3,673.5 1201.8,673.7 1199.3,673.8 1196.8,673.9 1194.3,674.1 1191.8,674.2 1189.3,674.3 1186.8,674.5 1184.3,674.6 1181.8,674.7 1179.2,674.8 1179.1,674.8Z M1289.5,657.6 1291.2,657.4 1293.7,657.0 1296.2,656.5 1298.7,656.1 1301.2,655.7 1303.7,655.2 1306.2,654.8 1308.7,654.3 1311.2,653.9 1313.7,653.4 1316.2,652.9 1318.7,652.4 1321.2,652.0 1323.6,651.5 1326.1,651.0 1328.6,650.5 1328.9,650.4 1330.2,656.7 1329.9,656.7 1327.4,657.2 1324.9,657.7 1322.4,658.2 1319.9,658.7 1317.4,659.2 1314.8,659.6 1312.3,660.1 1309.8,660.6 1307.3,661.0 1304.8,661.5 1302.3,661.9 1299.8,662.3 1297.3,662.7 1294.8,663.2 1292.2,663.6 1290.5,663.9Z M1394.1,634.6 1396.0,634.1 1398.5,633.4 1401.0,632.7 1403.4,632.0 1405.9,631.3 1408.4,630.5 1410.9,629.8 1413.4,629.1 1415.9,628.3 1418.4,627.6 1420.9,626.8 1423.4,626.0 1425.9,625.2 1428.4,624.5 1430.9,623.7 1432.1,623.3 1434.1,629.5 1432.9,629.9 1430.4,630.7 1427.8,631.5 1425.3,632.3 1422.8,633.1 1420.3,633.8 1417.8,634.6 1415.3,635.3 1412.8,636.1 1410.3,636.8 1407.8,637.6 1405.2,638.3 1402.7,639.0 1400.2,639.7 1397.7,640.4 1395.9,640.9Z M1494.8,601.1 1495.7,600.7 1498.2,599.7 1500.7,598.7 1503.2,597.7 1505.7,596.7 1508.2,595.7 1510.7,594.7 1513.2,593.7 1515.7,592.7 1518.2,591.7 1520.7,590.6 1523.2,589.6 1525.7,588.5 1528.2,587.5 1530.6,586.4 1531.5,586.0 1534.2,592.2 1533.3,592.6 1530.8,593.6 1528.3,594.7 1525.8,595.8 1523.3,596.8 1520.7,597.8 1518.2,598.9 1515.7,599.9 1513.2,600.9 1510.7,601.9 1508.2,603.0 1505.7,604.0 1503.2,604.9 1500.7,605.9 1498.1,606.9 1497.2,607.3Z" fill="#0070C0"/>
<g fill="#0070C0"><circle cx="617.8" cy="519.3" r="3.2"/><circle cx="637.4" cy="530.5" r="3.2"/><circle cx="714.2" cy="570.2" r="3.2"/><circle cx="734.4" cy="579.6" r="3.2"/><circle cx="813.0" cy="611.8" r="3.2"/><circle cx="833.6" cy="619.1" r="3.2"/><circle cx="914.6" cy="643.3" r="3.2"/><circle cx="935.9" cy="648.4" r="3.2"/><circle cx="1020.7" cy="664.0" r="3.2"/><circle cx="1042.9" cy="666.8" r="3.2"/><circle cx="1131.6" cy="672.4" r="3.2"/><circle cx="1154.7" cy="672.4" r="3.2"/><circle cx="1243.4" cy="667.0" r="3.2"/><circle cx="1266.2" cy="664.3" r="3.2"/><circle cx="1351.1" cy="648.9" r="3.2"/><circle cx="1372.6" cy="643.7" r="3.2"/><circle cx="1453.9" cy="619.5" r="3.2"/><circle cx="1474.5" cy="612.3" r="3.2"/></g>
<path d="M564.9,407.2 567.4,408.3 569.9,409.4 572.4,410.5 574.9,411.7 577.4,412.8 579.9,413.8 582.4,414.9 584.9,416.0 587.4,417.1 589.9,418.2 592.4,419.2 594.9,420.3 597.4,421.3 599.7,422.3 597.1,428.5 594.8,427.5 592.3,426.5 589.8,425.4 587.3,424.3 584.8,423.3 582.3,422.2 579.7,421.1 577.2,420.0 574.7,418.9 572.2,417.8 569.7,416.7 567.2,415.6 564.7,414.5 562.1,413.3Z M658.9,445.1 659.9,445.5 662.4,446.3 664.9,447.2 667.4,448.1 669.9,449.0 672.4,449.8 674.9,450.7 677.4,451.5 679.9,452.3 682.4,453.2 684.9,454.0 687.4,454.8 689.9,455.6 692.4,456.4 693.0,456.6 691.0,462.9 690.4,462.7 687.9,461.9 685.4,461.1 682.9,460.3 680.3,459.4 677.8,458.6 675.3,457.8 672.8,456.9 670.3,456.1 667.8,455.2 665.3,454.4 662.7,453.5 660.2,452.6 657.7,451.7 656.7,451.4Z M751.0,473.5 752.4,473.8 754.9,474.5 757.4,475.1 759.9,475.7 762.4,476.4 764.9,477.0 767.4,477.6 769.9,478.2 772.4,478.8 774.9,479.4 777.4,480.0 779.9,480.6 782.4,481.2 784.9,481.7 787.4,482.3 789.9,482.8 790.4,483.0 789.0,489.2 788.5,489.1 786.0,488.5 783.5,488.0 781.0,487.4 778.5,486.9 775.9,486.3 773.4,485.7 770.9,485.1 768.4,484.5 765.9,483.9 763.4,483.3 760.8,482.7 758.3,482.0 755.8,481.4 753.3,480.8 750.8,480.1 749.4,479.8Z M857.2,495.4 857.4,495.4 859.9,495.8 862.4,496.2 864.9,496.5 867.4,496.9 869.9,497.2 872.4,497.6 874.9,497.9 877.4,498.2 879.9,498.6 882.4,498.9 884.9,499.2 887.4,499.5 889.9,499.8 892.4,500.1 894.9,500.4 897.4,500.7 897.6,500.7 897.0,506.8 896.7,506.8 894.2,506.5 891.7,506.2 889.2,505.9 886.6,505.6 884.1,505.3 881.6,505.0 879.1,504.7 876.6,504.4 874.1,504.1 871.5,503.7 869.0,503.4 866.5,503.0 864.0,502.7 861.5,502.3 859.0,502.0 856.4,501.6 856.2,501.6Z M965.8,505.8 967.4,505.9 969.9,506.0 972.4,506.1 974.9,506.2 977.4,506.2 979.9,506.3 982.4,506.4 984.9,506.4 987.4,506.5 989.9,506.5 992.4,506.6 994.9,506.6 997.4,506.6 999.9,506.6 1002.4,506.6 1004.9,506.7 1007.4,506.6 1007.9,506.6 1007.9,512.5 1007.4,512.5 1004.9,512.5 1002.4,512.5 999.8,512.5 997.3,512.4 994.8,512.4 992.3,512.4 989.8,512.4 987.3,512.3 984.7,512.3 982.2,512.3 979.7,512.2 977.2,512.1 974.7,512.1 972.2,512.0 969.7,511.9 967.1,511.8 965.6,511.8Z M1078.4,503.7 1079.9,503.5 1082.4,503.3 1084.9,503.1 1087.4,502.9 1089.9,502.7 1092.4,502.5 1094.9,502.2 1097.4,502.0 1099.9,501.7 1102.4,501.5 1104.9,501.2 1107.4,501.0 1109.9,500.7 1112.4,500.4 1114.9,500.1 1117.3,499.8 1118.0,499.8 1118.8,505.9 1118.1,506.0 1115.5,506.2 1113.0,506.5 1110.5,506.8 1108.0,507.1 1105.5,507.3 1103.0,507.6 1100.5,507.8 1097.9,508.1 1095.4,508.3 1092.9,508.5 1090.4,508.8 1087.9,509.0 1085.4,509.2 1082.8,509.4 1080.3,509.6 1078.8,509.7Z" fill="#FF0000"/>
<g fill="#FF0000"><circle cx="617.7" cy="433.2" r="3.2"/><circle cx="637.2" cy="440.7" r="3.2"/><circle cx="711.0" cy="465.6" r="3.2"/><circle cx="730.1" cy="471.2" r="3.2"/><circle cx="811.6" cy="490.6" r="3.2"/><circle cx="833.5" cy="494.7" r="3.2"/><circle cx="919.7" cy="505.9" r="3.2"/><circle cx="942.1" cy="507.6" r="3.2"/><circle cx="1031.1" cy="509.2" r="3.2"/><circle cx="1054.3" cy="508.2" r="3.2"/><circle cx="1140.2" cy="500.0" r="3.2"/><circle cx="1161.9" cy="496.7" r="3.2"/></g>
<text x="199.30" y="890.96" style="font-size-adjust:0.4775390625" font-family="Carlito, 'Liberation Sans', sans-serif" font-size="74" font-weight="normal" text-anchor="end" textLength="103.281" lengthAdjust="spacingAndGlyphs" fill="#000">282</text>
<text x="199.30" y="789.84" style="font-size-adjust:0.4775390625" font-family="Carlito, 'Liberation Sans', sans-serif" font-size="74" font-weight="normal" text-anchor="end" textLength="103.281" lengthAdjust="spacingAndGlyphs" fill="#000">284</text>
<text x="199.30" y="688.71" style="font-size-adjust:0.4775390625" font-family="Carlito, 'Liberation Sans', sans-serif" font-size="74" font-weight="normal" text-anchor="end" textLength="103.281" lengthAdjust="spacingAndGlyphs" fill="#000">286</text>
<text x="199.30" y="587.58" style="font-size-adjust:0.4775390625" font-family="Carlito, 'Liberation Sans', sans-serif" font-size="74" font-weight="normal" text-anchor="end" textLength="103.281" lengthAdjust="spacingAndGlyphs" fill="#000">288</text>
<text x="199.30" y="486.45" style="font-size-adjust:0.4775390625" font-family="Carlito, 'Liberation Sans', sans-serif" font-size="74" font-weight="normal" text-anchor="end" textLength="103.281" lengthAdjust="spacingAndGlyphs" fill="#000">290</text>
<text x="199.30" y="385.32" style="font-size-adjust:0.4775390625" font-family="Carlito, 'Liberation Sans', sans-serif" font-size="74" font-weight="normal" text-anchor="end" textLength="103.281" lengthAdjust="spacingAndGlyphs" fill="#000">292</text>
<text x="199.30" y="284.20" style="font-size-adjust:0.4775390625" font-family="Carlito, 'Liberation Sans', sans-serif" font-size="74" font-weight="normal" text-anchor="end" textLength="103.281" lengthAdjust="spacingAndGlyphs" fill="#000">294</text>
<text x="199.30" y="183.07" style="font-size-adjust:0.4775390625" font-family="Carlito, 'Liberation Sans', sans-serif" font-size="74" font-weight="normal" text-anchor="end" textLength="103.281" lengthAdjust="spacingAndGlyphs" fill="#000">296</text>
<text x="199.30" y="81.94" style="font-size-adjust:0.4775390625" font-family="Carlito, 'Liberation Sans', sans-serif" font-size="74" font-weight="normal" text-anchor="end" textLength="103.281" lengthAdjust="spacingAndGlyphs" fill="#000">298</text>
<text x="260.60" y="988.30" style="font-size-adjust:0.4775390625" font-family="Carlito, 'Liberation Sans', sans-serif" font-size="74" font-weight="normal" text-anchor="middle" textLength="33.944" lengthAdjust="spacingAndGlyphs" fill="#000">0</text>
<text x="564.02" y="988.30" style="font-size-adjust:0.4775390625" font-family="Carlito, 'Liberation Sans', sans-serif" font-size="74" font-weight="normal" text-anchor="middle" textLength="152.461" lengthAdjust="spacingAndGlyphs" fill="#000">5,000</text>
<text x="867.45" y="988.30" style="font-size-adjust:0.4775390625" font-family="Carlito, 'Liberation Sans', sans-serif" font-size="74" font-weight="normal" text-anchor="middle" textLength="186.390" lengthAdjust="spacingAndGlyphs" fill="#000">10,000</text>
<text x="1170.87" y="988.30" style="font-size-adjust:0.4775390625" font-family="Carlito, 'Liberation Sans', sans-serif" font-size="74" font-weight="normal" text-anchor="middle" textLength="186.390" lengthAdjust="spacingAndGlyphs" fill="#000">15,000</text>
<text x="1474.29" y="988.30" style="font-size-adjust:0.4775390625" font-family="Carlito, 'Liberation Sans', sans-serif" font-size="74" font-weight="normal" text-anchor="middle" textLength="186.390" lengthAdjust="spacingAndGlyphs" fill="#000">20,000</text>
<text x="1777.71" y="988.30" style="font-size-adjust:0.4775390625" font-family="Carlito, 'Liberation Sans', sans-serif" font-size="74" font-weight="normal" text-anchor="middle" textLength="186.390" lengthAdjust="spacingAndGlyphs" fill="#000">25,000</text>
<text x="1018.00" y="1040.80" style="font-size-adjust:0.48486328125" font-family="Carlito, 'Liberation Sans', sans-serif" font-size="74" font-weight="bold" text-anchor="middle" textLength="208.137" lengthAdjust="spacingAndGlyphs" fill="#000">n (rpm)</text>
<text transform="translate(77.6,463.3) rotate(-90)" style="font-size-adjust:0.48486328125" font-family="Carlito, 'Liberation Sans', sans-serif" font-size="64.824" font-weight="bold" text-anchor="middle" textLength="147.217" lengthAdjust="spacingAndGlyphs" fill="#000">T([K)</text>
<rect x="277.7" y="64" width="709.3" height="214" fill="#fff"/>
<line x1="300.5" y1="98.2" x2="411.8" y2="98.2" stroke="#00AD4A" stroke-width="6.6"/>
<text x="419.80" y="117.50" style="font-size-adjust:0.4775390625" font-family="Carlito, 'Liberation Sans', sans-serif" font-size="59.5" font-weight="normal" text-anchor="start" textLength="175.731" lengthAdjust="spacingAndGlyphs" fill="#000">1.88 tot</text>
<line x1="654.4" y1="98.2" x2="703.4" y2="98.2" stroke="#00AD4A" stroke-width="6.6"/>
<circle cx="723.9" cy="98.2" r="3.0" fill="#00AD4A"/>
<circle cx="748.0" cy="98.2" r="3.0" fill="#00AD4A"/>
<text x="773.30" y="117.50" style="font-size-adjust:0.4775390625" font-family="Carlito, 'Liberation Sans', sans-serif" font-size="59.5" font-weight="normal" text-anchor="start" textLength="194.191" lengthAdjust="spacingAndGlyphs" fill="#000">1.88 stat</text>
<line x1="300.5" y1="170.2" x2="411.8" y2="170.2" stroke="#00B0F0" stroke-width="6.6"/>
<text x="419.80" y="189.50" style="font-size-adjust:0.4775390625" font-family="Carlito, 'Liberation Sans', sans-serif" font-size="59.5" font-weight="normal" text-anchor="start" textLength="147.790" lengthAdjust="spacingAndGlyphs" fill="#000">1.6 tot</text>
<line x1="654.4" y1="170.2" x2="703.4" y2="170.2" stroke="#0070C0" stroke-width="6.6"/>
<circle cx="723.9" cy="170.2" r="3.0" fill="#0070C0"/>
<circle cx="748.0" cy="170.2" r="3.0" fill="#0070C0"/>
<text x="773.30" y="189.50" style="font-size-adjust:0.4775390625" font-family="Carlito, 'Liberation Sans', sans-serif" font-size="59.5" font-weight="normal" text-anchor="start" textLength="166.125" lengthAdjust="spacingAndGlyphs" fill="#000">1.6 stat</text>
<line x1="300.5" y1="242.2" x2="411.8" y2="242.2" stroke="#FF0000" stroke-width="6.6"/>
<text x="419.80" y="261.50" style="font-size-adjust:0.4775390625" font-family="Carlito, 'Liberation Sans', sans-serif" font-size="59.5" font-weight="normal" text-anchor="start" textLength="147.790" lengthAdjust="spacingAndGlyphs" fill="#000">1.4 tot</text>
<line x1="654.4" y1="242.2" x2="703.4" y2="242.2" stroke="#FF0000" stroke-width="6.6"/>
<circle cx="723.9" cy="242.2" r="3.0" fill="#FF0000"/>
<circle cx="748.0" cy="242.2" r="3.0" fill="#FF0000"/>
<text x="773.30" y="261.50" style="font-size-adjust:0.4775390625" font-family="Carlito, 'Liberation Sans', sans-serif" font-size="59.5" font-weight="normal" text-anchor="start" textLength="166.125" lengthAdjust="spacingAndGlyphs" fill="#000">1.4 stat</text>
</svg></body></html>
